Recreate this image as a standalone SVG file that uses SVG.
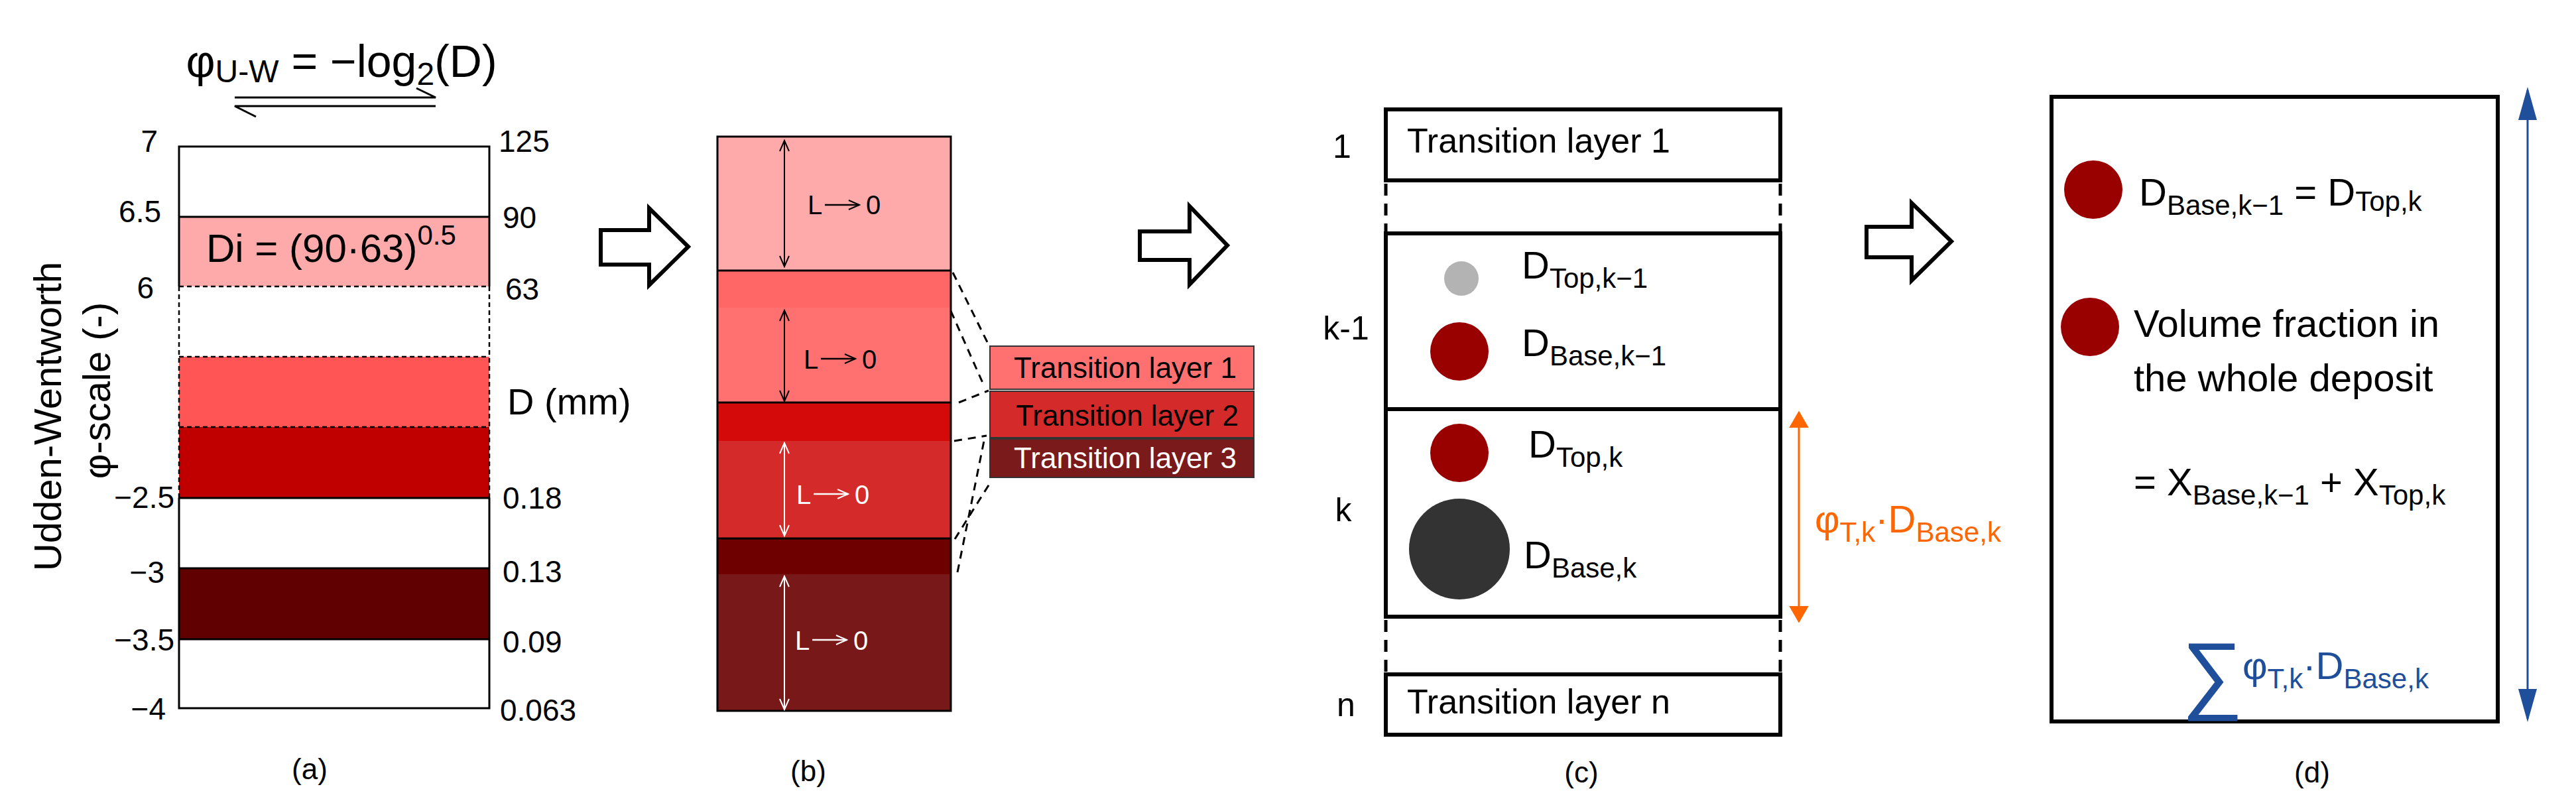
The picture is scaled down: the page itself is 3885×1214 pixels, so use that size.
<svg xmlns="http://www.w3.org/2000/svg" width="3885" height="1214" viewBox="0 0 3885 1214">
<style>
text{font-family:"Liberation Sans",Arial,sans-serif;fill:#000}
.n{font-size:46px}
.tl{font-size:44px}
.ln{stroke:#000;stroke-width:3;fill:none}
.thick{stroke:#000;stroke-width:6;fill:none}
.dash{stroke:#000;stroke-width:5;stroke-dasharray:18 12;fill:none}
.hollow{fill:#fff;stroke:#000;stroke-width:6;stroke-linejoin:miter}
</style>
<defs>
<marker id="ob" viewBox="0 0 20 20" refX="18" refY="10" markerWidth="20" markerHeight="20" orient="auto-start-reverse" markerUnits="userSpaceOnUse"><path d="M2,3 L18,10 L2,17" fill="none" stroke="#000" stroke-width="2"/></marker>
<marker id="ow" viewBox="0 0 20 20" refX="18" refY="10" markerWidth="20" markerHeight="20" orient="auto-start-reverse" markerUnits="userSpaceOnUse"><path d="M2,3 L18,10 L2,17" fill="none" stroke="#fff" stroke-width="2"/></marker>
<marker id="oa" viewBox="0 0 10 10" refX="9" refY="5" markerWidth="26" markerHeight="30" orient="auto-start-reverse" markerUnits="userSpaceOnUse" preserveAspectRatio="none"><path d="M0,0 L10,5 L0,10 Z" fill="#FF6600"/></marker>
<marker id="ba" viewBox="0 0 10 10" refX="9" refY="5" markerWidth="50" markerHeight="28" orient="auto-start-reverse" markerUnits="userSpaceOnUse" preserveAspectRatio="none"><path d="M0,0 L10,5 L0,10 Z" fill="#1F4E9A"/></marker>
</defs>

<g id="panel-a">
<text x="515" y="116" text-anchor="middle" font-size="68">φ<tspan font-size="48" dy="8">U-W</tspan><tspan dy="-8"> = −log</tspan><tspan font-size="48" dy="12">2</tspan><tspan dy="-12">(D)</tspan></text>
<path class="ln" d="M354,147 H657 L628,133 M657,160 H354 L386,176" stroke-width="3"/>
<rect x="270" y="221" width="468" height="847" fill="#fff"/>
<rect x="270" y="327" width="468" height="105" fill="#FFAAAA"/>
<rect x="270" y="538" width="468" height="106" fill="#FF5555"/>
<rect x="270" y="644" width="468" height="107" fill="#C00000"/>
<rect x="270" y="857" width="468" height="107" fill="#600000"/>
<path class="ln" d="M270,327 H738 M270,751 H738 M270,857 H738 M270,964 H738" stroke-width="2.5"/>
<path d="M270,432 H738 M270,538 H738 M270,644 H738 M270,432 V751 M738,432 V751" stroke="#000" stroke-width="2.5" stroke-dasharray="7 5" fill="none"/>
<path class="ln" d="M270,432 V221 H738 V432 M270,751 V1068 H738 V751" stroke-width="3"/>
<text x="311" y="395" font-size="60">Di = (90·63)<tspan font-size="42" dy="-26">0.5</tspan></text>
<g class="n" text-anchor="end">
<text x="238" y="229">7</text><text x="243" y="335">6.5</text><text x="232" y="450">6</text>
<text x="263" y="766">−2.5</text><text x="248" y="879">−3</text><text x="263" y="981">−3.5</text><text x="250" y="1085">−4</text>
</g>
<g class="n">
<text x="752" y="229">125</text><text x="758" y="344">90</text><text x="762" y="452">63</text>
<text x="758" y="767">0.18</text><text x="758" y="878">0.13</text><text x="758" y="984">0.09</text><text x="754" y="1087">0.063</text>
</g>
<text x="765" y="625" font-size="56">D (mm)</text>
<text transform="translate(92,628) rotate(-90)" text-anchor="middle" font-size="58">Udden-Wentworth</text>
<text transform="translate(166,589) rotate(-90)" text-anchor="middle" font-size="58">φ-scale (-)</text>
<text x="467" y="1175" text-anchor="middle" font-size="44">(a)</text>
</g>

<g id="arrow-1"><path class="hollow" d="M906,347 H979 V314 L1038,372 L979,430 V399 H906 Z"/></g>

<g id="panel-b">
<rect x="1082" y="206" width="352" height="202" fill="#FFAAAA"/>
<rect x="1082" y="408" width="352" height="56" fill="#FF6666"/>
<rect x="1082" y="464" width="352" height="143" fill="#FF7070"/>
<rect x="1082" y="607" width="352" height="58" fill="#D40A0A"/>
<rect x="1082" y="665" width="352" height="147" fill="#D42A2A"/>
<rect x="1082" y="812" width="352" height="54" fill="#6E0000"/>
<rect x="1082" y="866" width="352" height="206" fill="#781818"/>
<path class="ln" d="M1082,408 H1434 M1082,607 H1434 M1082,812 H1434" stroke-width="2"/>
<rect x="1082" y="206" width="352" height="866" class="ln"/>
<line x1="1183" y1="212" x2="1183" y2="402" stroke="#000" stroke-width="2" marker-start="url(#ob)" marker-end="url(#ob)"/>
<line x1="1183" y1="468" x2="1183" y2="605" stroke="#000" stroke-width="2" marker-start="url(#ob)" marker-end="url(#ob)"/>
<line x1="1183" y1="668" x2="1183" y2="808" stroke="#fff" stroke-width="2" marker-start="url(#ow)" marker-end="url(#ow)"/>
<line x1="1183" y1="869" x2="1183" y2="1070" stroke="#fff" stroke-width="2" marker-start="url(#ow)" marker-end="url(#ow)"/>
<g font-size="40">
<text x="1218" y="323">L</text><line x1="1244" y1="309" x2="1296" y2="309" stroke="#000" stroke-width="2.5" marker-end="url(#ob)"/><text x="1306" y="323">0</text>
<text x="1212" y="556">L</text><line x1="1238" y1="541" x2="1290" y2="541" stroke="#000" stroke-width="2.5" marker-end="url(#ob)"/><text x="1300" y="556">0</text>
<text x="1201" y="760" style="fill:#fff">L</text><line x1="1227" y1="745" x2="1279" y2="745" stroke="#fff" stroke-width="2.5" marker-end="url(#ow)"/><text x="1289" y="760" style="fill:#fff">0</text>
<text x="1199" y="980" style="fill:#fff">L</text><line x1="1225" y1="965" x2="1277" y2="965" stroke="#fff" stroke-width="2.5" marker-end="url(#ow)"/><text x="1287" y="980" style="fill:#fff">0</text>
</g>
<text x="1219" y="1178" text-anchor="middle" font-size="44">(b)</text>
</g>

<g id="transition-boxes">
<rect x="1493" y="522" width="398" height="65" fill="#FF7070" stroke="#333" stroke-width="2"/>
<rect x="1493" y="590" width="398" height="70" fill="#D42A2A" stroke="#333" stroke-width="2"/>
<rect x="1493" y="662" width="398" height="58" fill="#7A1A1A" stroke="#333" stroke-width="2"/>
<text x="1697" y="570" text-anchor="middle" class="tl">Transition layer 1</text>
<text x="1700" y="642" text-anchor="middle" class="tl">Transition layer 2</text>
<text x="1697" y="706" text-anchor="middle" class="tl" style="fill:#fff">Transition layer 3</text>
</g>

<g id="connectors" stroke="#000" stroke-width="3" stroke-dasharray="12 9" fill="none">
<line x1="1437" y1="411" x2="1491" y2="520"/>
<line x1="1434" y1="469" x2="1485" y2="584"/>
<line x1="1446" y1="607" x2="1491" y2="589"/>
<line x1="1439" y1="665" x2="1488" y2="657"/>
<line x1="1440" y1="813" x2="1494" y2="727"/>
<line x1="1444" y1="863" x2="1485" y2="660"/>
</g>

<g id="arrow-2"><path class="hollow" d="M1719,349 H1794 V311 L1851,370 L1794,429 V392 H1719 Z"/></g>

<g id="panel-c">
<rect x="2090" y="165" width="595" height="107" class="thick"/>
<text x="2122" y="230" font-size="52">Transition layer 1</text>
<path class="dash" d="M2090,277 V352 M2685,277 V352 M2090,935 V1017 M2685,935 V1017"/>
<rect x="2090" y="352" width="595" height="265" class="thick"/>
<rect x="2090" y="617" width="595" height="313" class="thick"/>
<rect x="2090" y="1017" width="595" height="91" class="thick"/>
<text x="2122" y="1076" font-size="52">Transition layer n</text>
<g font-size="50" text-anchor="middle">
<text x="2024" y="238">1</text><text x="2030" y="512">k-1</text><text x="2026" y="786">k</text><text x="2030" y="1080">n</text>
</g>
<circle cx="2204" cy="420" r="26" fill="#B3B3B3"/>
<circle cx="2201" cy="530" r="44" fill="#990000"/>
<circle cx="2201" cy="683" r="44" fill="#990000"/>
<circle cx="2201" cy="828" r="76" fill="#333333"/>
<g font-size="58">
<text x="2295" y="420">D<tspan font-size="42" dy="14">Top,k−1</tspan></text>
<text x="2295" y="537">D<tspan font-size="42" dy="14">Base,k−1</tspan></text>
<text x="2305" y="690">D<tspan font-size="42" dy="14">Top,k</tspan></text>
<text x="2298" y="857">D<tspan font-size="42" dy="14">Base,k</tspan></text>
</g>
<line x1="2713" y1="622" x2="2713" y2="937" stroke="#FF6600" stroke-width="3" marker-start="url(#oa)" marker-end="url(#oa)"/>
<text x="2737" y="803" font-size="58" style="fill:#FF6600">φ<tspan font-size="42" dy="14">T,k</tspan><tspan dy="-14">·D</tspan><tspan font-size="42" dy="14">Base,k</tspan></text>
<text x="2385" y="1180" text-anchor="middle" font-size="44">(c)</text>
</g>

<g id="arrow-3"><path class="hollow" d="M2815,342 H2883 V306 L2943,364 L2883,423 V388 H2815 Z"/></g>

<g id="panel-d">
<rect x="3094" y="146" width="673" height="942" class="thick"/>
<circle cx="3157" cy="286" r="44" fill="#990000"/>
<circle cx="3152" cy="493" r="44" fill="#990000"/>
<text x="3226" y="310" font-size="58">D<tspan font-size="42" dy="14">Base,k−1</tspan><tspan dy="-14"> = D</tspan><tspan font-size="42" dy="8">Top,k</tspan></text>
<text x="3218" y="508" font-size="58">Volume fraction in</text>
<text x="3218" y="590" font-size="58">the whole deposit</text>
<text x="3218" y="747" font-size="58">= X<tspan font-size="42" dy="14">Base,k−1</tspan><tspan dy="-14"> + X</tspan><tspan font-size="42" dy="14">Top,k</tspan></text>
<text x="3290" y="1060" font-size="130" style="fill:#1F4E9A">∑</text>
<text x="3382" y="1024" font-size="58" style="fill:#1F4E9A">φ<tspan font-size="42" dy="14">T,k</tspan><tspan dy="-14">·D</tspan><tspan font-size="42" dy="14">Base,k</tspan></text>
<line x1="3812" y1="136" x2="3812" y2="1084" stroke="#1F4E9A" stroke-width="3" marker-start="url(#ba)" marker-end="url(#ba)"/>
<text x="3487" y="1180" text-anchor="middle" font-size="44">(d)</text>
</g>
</svg>
